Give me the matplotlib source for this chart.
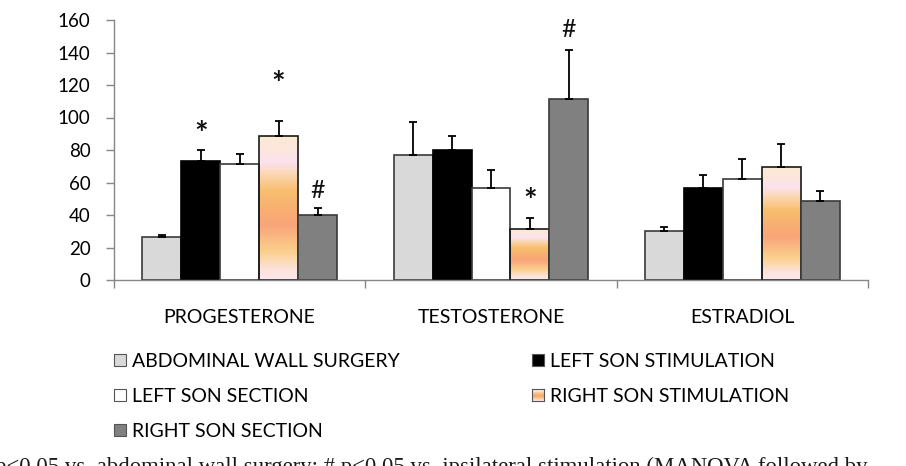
import numpy as np
import matplotlib
matplotlib.use('Agg')
import matplotlib.pyplot as plt
from matplotlib.patches import Rectangle
from matplotlib.colors import to_rgb

# data
hormones = ['PROGESTERONE', 'TESTOSTERONE', 'ESTRADIOL']
groups = ['ABDOMINAL WALL SURGERY', 'LEFT SON STIMULATION', 'LEFT SON SECTION',
          'RIGHT SON STIMULATION', 'RIGHT SON SECTION']
abdominal = [26.3, 76.7, 30.2]
left_stim = [73.4, 80.0, 56.8]
left_sect = [71.2, 56.6, 62.4]
right_stim = [88.4, 31.6, 69.3]
right_sect = [40.0, 111.4, 48.6]
abdominal_err = [1.2, 20.5, 2.4]
left_stim_err = [6.8, 8.6, 7.8]
left_sect_err = [6.5, 11.1, 12.1]
right_stim_err = [9.4, 6.7, 14.6]
right_sect_err = [4.3, 30.1, 6.2]
# significance marks: (hormone index, group index, symbol, y)
marks = [(0, 1, '*', 93.5), (0, 3, '*', 124), (0, 4, '#', 55),
         (1, 3, '*', 52), (1, 4, '#', 154)]
caption = ('* p<0.05 vs. abdominal wall surgery; # p<0.05 vs. ipsilateral '
           'stimulation (MANOVA followed by')

values = [abdominal, left_stim, left_sect, right_stim, right_sect]
errors = [abdominal_err, left_stim_err, left_sect_err, right_stim_err, right_sect_err]
colors = ['#d9d9d9', '#000000', '#ffffff', None, '#808080']
edges = ['#3a3a3a', '#000000', '#3a3a3a', '#1a1a1a', '#3a3a3a']

# vertical gradient used for the "right son stimulation" fill (top -> bottom)
grad_pos = [0.0, 0.10, 0.18, 0.27, 0.38, 0.52, 0.62, 0.80, 0.92, 1.0]
grad_col = ['#fcead3', '#fce6df', '#fce2ee', '#fbd6ae', '#f8be6f', '#f9ae72',
            '#f9a57a', '#fbcf8c', '#fce2d6', '#fde8f1']


def gradient_image(n=200):
    t = np.linspace(0, 1, n)
    rgb = np.array([to_rgb(c) for c in grad_col])
    img = np.stack([np.interp(t, grad_pos, rgb[:, k]) for k in range(3)], axis=1)
    return img[:, None, :]


plt.rcParams['font.family'] = ['Lato', 'DejaVu Sans']
W, H = 906, 466
fig = plt.figure(figsize=(W / 100, H / 100), dpi=100)
ax = fig.add_axes([114 / W, 1 - 280 / H, 754 / W, 260 / H])

x = np.arange(len(hormones))
bw = 0.155
grad = gradient_image()
for i, (vals, errs) in enumerate(zip(values, errors)):
    pos = x + (i - 2) * bw
    fc = colors[i] if colors[i] is not None else 'none'
    bars = ax.bar(pos, vals, bw, color=fc, edgecolor=edges[i], linewidth=1.2, zorder=2)
    if colors[i] is None:
        for b in bars:
            x0, y0 = b.get_x(), b.get_y()
            im = ax.imshow(grad, extent=[x0, x0 + b.get_width(), y0, y0 + b.get_height()],
                           aspect='auto', zorder=1.5, interpolation='bilinear')
            im.set_clip_path(b)
    ax.errorbar(pos, vals, yerr=[np.zeros(len(errs)), errs], fmt='none',
                ecolor='black', elinewidth=1.3, capsize=2.6, capthick=1.3, zorder=3)

# glyph offsets so the symbols sit where the reference shows them
for h, g, sym, yv in marks:
    star = sym == '*'
    ax.text(x[h] + (g - 2) * bw, yv - (4.5 if star else 0), sym, ha='center', va='center',
            fontsize=23 if star else 18, fontweight='bold' if star else 'normal',
            color='#111111')

ax.set_xlim(-0.5, len(hormones) - 0.5)
ax.set_ylim(0, 160)
ax.set_yticks(np.arange(0, 161, 20))
ax.tick_params(axis='y', labelsize=13.5, length=6, width=1, color='#868686', pad=11,
               labelcolor='#000000')
ax.set_xticks(np.arange(-0.5, len(hormones), 1))
ax.set_xticklabels([])
ax.set_xticks(x, hormones, minor=True)
ax.tick_params(axis='x', which='major', length=6, width=1, color='#868686')
ax.tick_params(axis='x', which='minor', length=0, pad=21, labelsize=14)
for s in ['top', 'right']:
    ax.spines[s].set_visible(False)
for s in ['left', 'bottom']:
    ax.spines[s].set_color('#868686')
    ax.spines[s].set_linewidth(1)

# legend drawn by hand: two columns, filled row by row
col_x = [114, 532]
row_y = [360, 395, 430]
box = 12
for k, name in enumerate(groups):
    r, c = divmod(k, 2)
    lx, ly = col_x[c], row_y[r]
    if colors[k] is None:
        lax = fig.add_axes([lx / W, 1 - (ly + box / 2) / H, box / W, box / H])
        lax.imshow(grad, aspect='auto', extent=[0, 1, 0, 1], interpolation='bilinear')
        lax.set_xticks([])
        lax.set_yticks([])
        for sp in lax.spines.values():
            sp.set_color('#555555')
    else:
        fig.add_artist(Rectangle((lx / W, 1 - (ly + box / 2) / H), box / W, box / H,
                                 transform=fig.transFigure, facecolor=colors[k],
                                 edgecolor='#555555', linewidth=0.8))
    fig.text((lx + box + 6) / W, 1 - ly / H, name, ha='left', va='center_baseline',
             fontsize=14, color='#000000')

# caption of the source figure, cut by the bottom edge as in the reference
fig.text(868 / W, 1 - 473 / H, caption, ha='right', va='baseline',
         fontsize=16.4, family='Liberation Serif', color='#1a1a1a')

fig.savefig('out.png', dpi=100)
